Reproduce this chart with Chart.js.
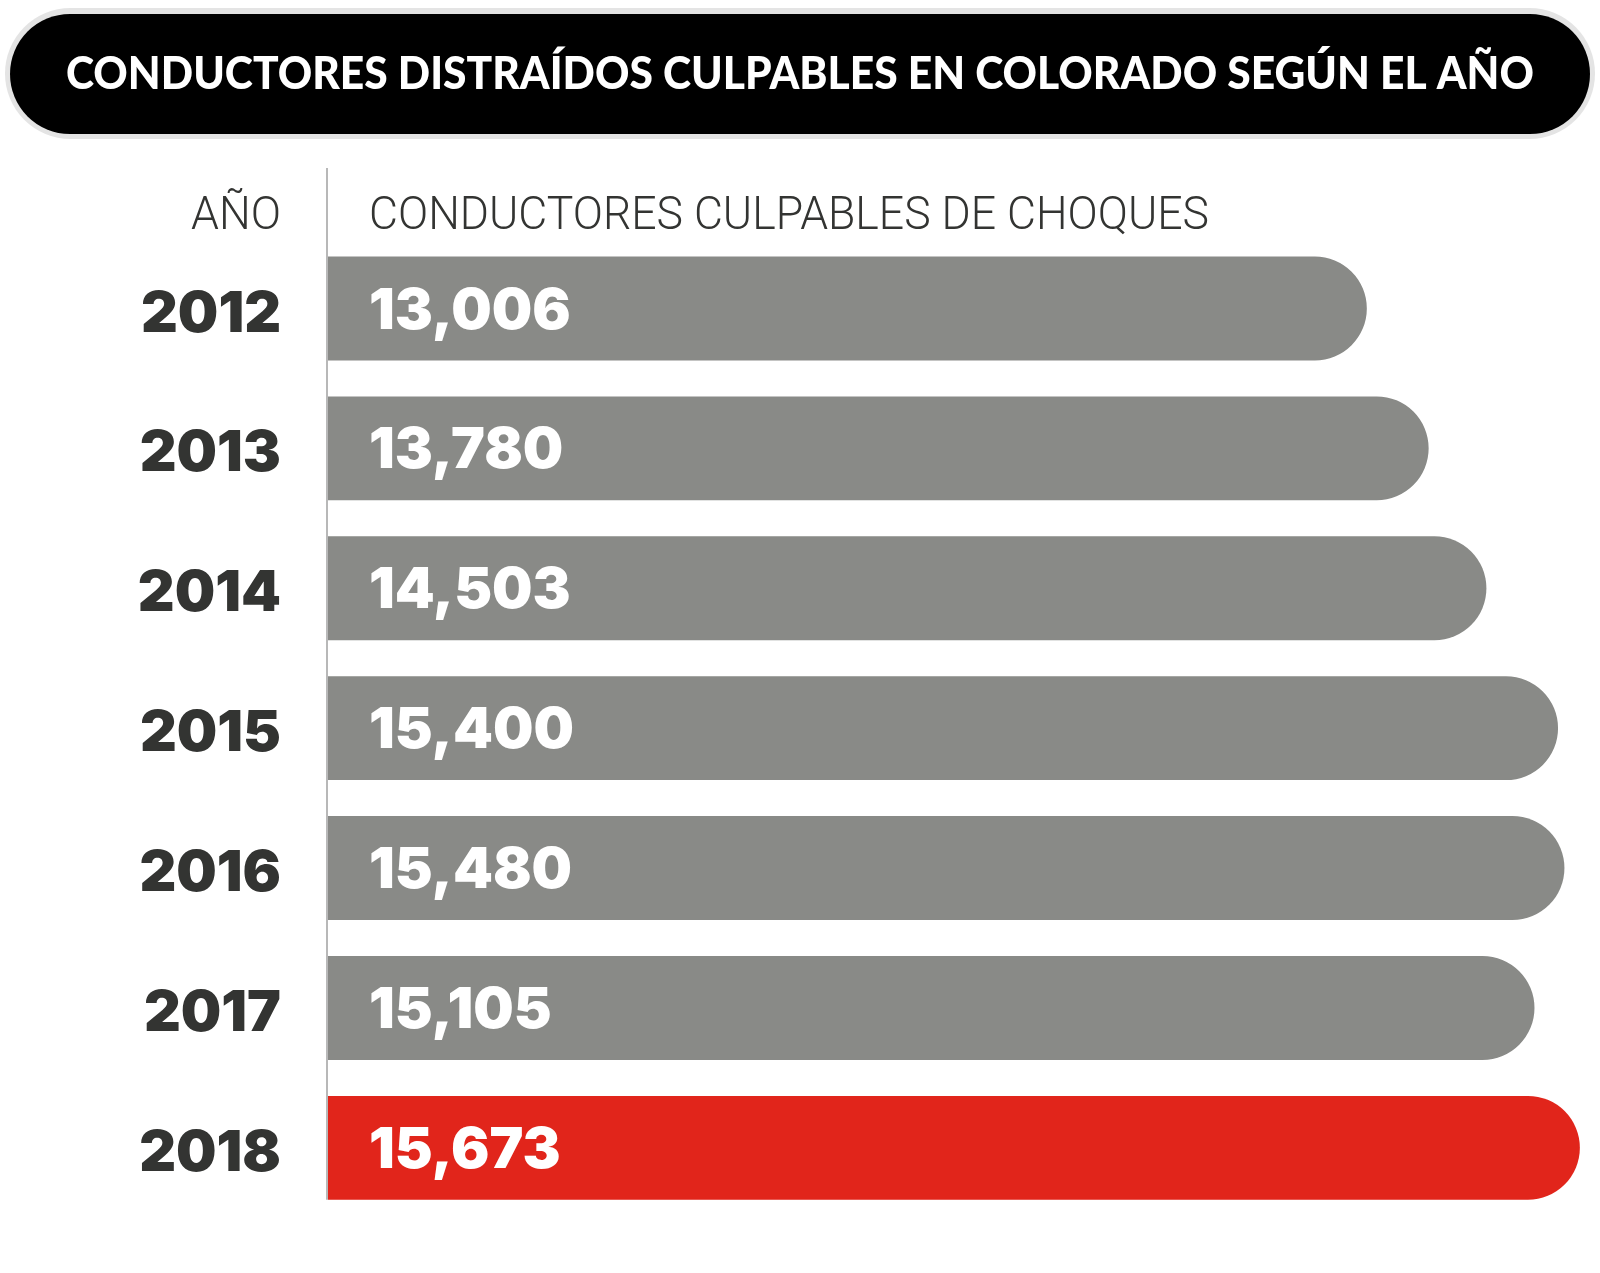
<!DOCTYPE html>
<html>
<head>
<meta charset="utf-8">
<script src="https://cdn.jsdelivr.net/npm/chart.js@4.4.1/dist/chart.umd.min.js"></script>
<style>
  html, body { margin:0; padding:0; background:#fff; }
  #wrap { width:1600px; height:1273px; }
</style>
</head>
<body>
<div id="wrap"><canvas id="chart" width="1600" height="1273"></canvas></div>
<script>
/* ---------- DATA ---------- */
const years = ["2012", "2013", "2014", "2015", "2016", "2017", "2018"];
const drivers = [13006, 13780, 14503, 15400, 15480, 15105, 15673];
const titleText = "CONDUCTORES DISTRAÍDOS CULPABLES EN COLORADO SEGÚN EL AÑO";
const yearHeader = "AÑO";
const valueHeader = "CONDUCTORES CULPABLES DE CHOQUES";
const highlightYear = "2018";

/* ---------- STYLE ---------- */
const GREY = "#898a87";
const RED = "#e1251b";
const DARK = "#333432";
const TITLE = "'Lato', 'Noto Sans', sans-serif";
const HEAVY = "'Inter', 'Lato', sans-serif";
const LIGHT = "'Roboto', 'Noto Sans', sans-serif";

function roundRect(ctx, x, y, w, h, r){
  ctx.beginPath();
  ctx.moveTo(x + r, y);
  ctx.lineTo(x + w - r, y);
  ctx.arc(x + w - r, y + r, r, -Math.PI/2, Math.PI/2);
  ctx.lineTo(x + r, y + h);
  ctx.arc(x + r, y + r, r, Math.PI/2, Math.PI*1.5);
  ctx.closePath();
}

// draw text squeezed/stretched to a target width
function fitText(ctx, txt, x, y, width, align){
  const w = ctx.measureText(txt).width;
  const k = width / w;
  ctx.save();
  let x0 = x;
  if(align === "center") x0 = x - width/2;
  else if(align === "right") x0 = x - width;
  ctx.translate(x0, y);
  ctx.scale(k, 1);
  ctx.textAlign = "left";
  ctx.fillText(txt, 0, 0);
  ctx.restore();
}

const decor = {
  id: "decor",
  beforeDraw(chart){
    const {ctx, chartArea} = chart;
    ctx.save();
    ctx.fillStyle = "#fff";
    ctx.fillRect(0, 0, chart.width, chart.height);

    // title pill
    ctx.fillStyle = "#e4e4e4";
    roundRect(ctx, 5, 8, 1590, 131, 65.5);
    ctx.fill();
    ctx.fillStyle = "#000";
    roundRect(ctx, 10, 14, 1580, 120, 60);
    ctx.fill();
    ctx.fillStyle = "#fff";
    ctx.font = "900 46px " + TITLE;
    ctx.textBaseline = "middle";
    fitText(ctx, titleText, 800, 74, 1468, "center");

    // column headers
    ctx.fillStyle = DARK;
    ctx.font = "300 47px " + LIGHT;
    ctx.textBaseline = "middle";
    fitText(ctx, yearHeader, chartArea.left - 47, 217, 90, "right");
    fitText(ctx, valueHeader, chartArea.left + 41, 217, 840, "left");

    // axis line, from header down to the bottom of the last bar
    const meta = chart.getDatasetMeta(0);
    const last = meta.data[meta.data.length - 1];
    ctx.strokeStyle = "#b8b8b8";
    ctx.lineWidth = 2;
    ctx.beginPath();
    ctx.moveTo(chartArea.left - 1, 168);
    ctx.lineTo(chartArea.left - 1, last.y + last.height/2);
    ctx.stroke();
    ctx.restore();
  },
  afterDatasetsDraw(chart){
    const {ctx, chartArea} = chart;
    const meta = chart.getDatasetMeta(0);
    ctx.save();
    ctx.fillStyle = "#fff";
    ctx.font = "900 57px " + HEAVY;
    ctx.textAlign = "left";
    ctx.textBaseline = "middle";
    meta.data.forEach((bar, i)=>{
      ctx.fillText(drivers[i].toLocaleString("en-US"), chartArea.left + 41, bar.y + 3);
    });
    ctx.restore();
  }
};

const ctx = document.getElementById("chart").getContext("2d");
new Chart(ctx, {
  type: "bar",
  data: {
    labels: years,
    datasets: [{
      data: drivers,
      backgroundColor: years.map(y => y === highlightYear ? RED : GREY),
      borderRadius: 60,
      borderSkipped: "start",
      barPercentage: 0.743,
      categoryPercentage: 1
    }]
  },
  options: {
    indexAxis: "y",
    responsive: false,
    animation: false,
    devicePixelRatio: 1,
    layout: { padding: { top: 238.5, bottom: 55.2, left: 0, right: 10 } },
    plugins: { legend: { display: false }, tooltip: { enabled: false } },
    scales: {
      x: { display: false, min: 0, max: 15800 },
      y: {
        afterFit(axis){ axis.width = 328; axis.paddingTop = 0; axis.paddingBottom = 0; },
        grid: { display: false, drawTicks: false },
        border: { display: false },
        ticks: {
          padding: 47,
          labelOffset: 6,
          color: DARK,
          font: { family: HEAVY, weight: 900, size: 57 }
        }
      }
    }
  },
  plugins: [decor]
});
</script>
</body>
</html>
